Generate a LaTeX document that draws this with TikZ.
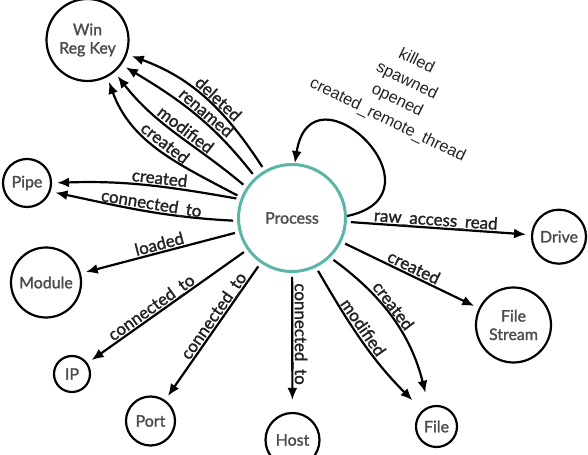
\documentclass[tikz,border=0pt]{standalone}
\usepackage{fontspec}
\setmainfont{Lato}[FakeBold=1.5]
\newfontfamily\loopfont{Liberation Sans}
\usetikzlibrary{arrows.meta}
\definecolor{tealring}{RGB}{92,182,168}
\definecolor{ntext}{RGB}{75,75,75}
\definecolor{ltext}{RGB}{35,35,35}
\begin{document}
\begin{tikzpicture}[x=1bp,y=1bp,
  ent/.style={circle, draw=black, line width=2.2bp, inner sep=0pt, text=ntext,
              font=\fontsize{16}{18.5}\selectfont, align=center},
  rel/.style={line width=2.2bp, -{Latex[length=12bp,width=10bp]},
              shorten <=4bp, shorten >=5bp},
  lbl/.style={sloped, above, inner sep=1.5bp, text depth=0bp, text=ltext,
              font=\fontsize{17}{19}\selectfont}]
\useasboundingbox (0,0) rectangle (588,455);
% nodes
\node[ent, draw=tealring, line width=3bp, minimum size=107bp] (proc) at (292,237) {Process};
\node[ent, minimum size=82bp] (win) at (87.5,415) {Win\\Reg Key};
\node[ent, minimum size=48bp] (pipe) at (27,272) {Pipe};
\node[ent, minimum size=70bp] (module) at (46,172.5) {Module};
\node[ent, minimum size=36bp] (ip) at (72,81) {IP};
\node[ent, minimum size=49bp] (port) at (150.5,34) {Port};
\node[ent, minimum size=54bp] (host) at (292.5,15) {Host};
\node[ent, minimum size=41bp] (file) at (436.5,28.5) {File};
\node[ent, minimum size=75bp] (fstream) at (513.5,130) {File\\Stream};
\node[ent, minimum size=54bp] (drive) at (559,218.3) {Drive};
% Win Reg Key fan
\draw[rel] (proc.120) to[out=123,in=-20] node[lbl,pos=0.45]{deleted} (win.-20);
\draw[rel] (proc.132) to[out=128,in=-31] node[lbl,pos=0.45]{renamed} (win.-36);
\draw[rel] (proc.146) to[out=140,in=-52] node[lbl,pos=0.47]{modified} (win.-50);
\draw[rel] (proc.158) to[out=152,in=-70] node[lbl,pos=0.5]{created} (win.-62);
% Pipe
\draw[rel] (proc.160) to[out=170,in=2] node[lbl,pos=0.43]{created} (pipe.0);
\draw[rel] (proc.183) to[out=177,in=-12] node[lbl,pos=0.46]{connected\_to} (pipe.-20);
% straight ones
\draw[rel] (proc) -- node[lbl,pos=0.49]{loaded} (module);
\draw[rel] (proc) -- node[lbl,pos=0.57]{connected\_to} (ip);
\draw[rel] (proc) -- node[lbl,pos=0.42]{connected\_to} (port);
\draw[rel, shorten >=12bp] (proc) -- node[lbl,pos=0.44]{connected\_to} (host);
\draw[rel] (proc) -- node[lbl,pos=0.48]{raw\_access\_read} (drive);
\draw[rel] (proc) -- node[lbl,pos=0.5]{created} (fstream);
% File
\draw[rel, shorten >=14bp] (proc.-46) to[out=-36,in=104] node[lbl,pos=0.42]{created} (file.111);
\draw[rel, shorten >=14bp] (proc.-64) to[out=-60,in=135] node[lbl,pos=0.42]{modified} (file.131);
% self loop
\draw[rel, shorten <=0bp, shorten >=0bp] (proc.2) to[out=12,in=81,looseness=3.65] (proc.87);
\node[rotate=-26, align=center, text=ltext, font=\loopfont\fontsize{16.5}{22}\selectfont]
  (looplbl) at (402,364) {killed\\spawned\\opened\\created\_remote\_thread};
\end{tikzpicture}
\end{document}
